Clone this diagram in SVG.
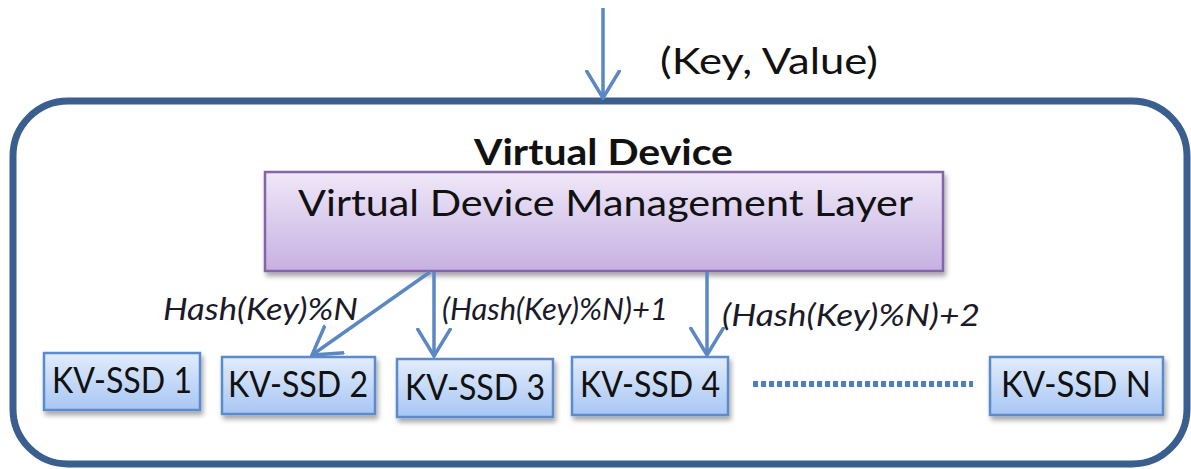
<svg xmlns="http://www.w3.org/2000/svg" width="1191" height="469" viewBox="0 0 1191 469">
<defs>
<linearGradient id="gBlue" x1="0" y1="0" x2="0" y2="1">
<stop offset="0" stop-color="#e2ecfc"/>
<stop offset="1" stop-color="#a8c6f4"/>
</linearGradient>
<linearGradient id="gPurple" x1="0" y1="0" x2="0" y2="1">
<stop offset="0" stop-color="#efe8f8"/>
<stop offset="1" stop-color="#c6b0e2"/>
</linearGradient>
<filter id="sh" x="-10%" y="-10%" width="130%" height="140%">
<feDropShadow dx="2" dy="4" stdDeviation="2.5" flood-color="#000" flood-opacity="0.35"/>
</filter>
<marker id="ahBig" viewBox="0 0 30 36" refX="28" refY="18" markerWidth="30" markerHeight="36" markerUnits="userSpaceOnUse" orient="auto">
<path d="M0,1 L28,18 L0,35" fill="none" stroke="#5b87c4" stroke-width="3.5"/>
</marker>
</defs>
<style>
.box{fill:url(#gBlue);stroke:#5b8bcb;stroke-width:2.5;filter:url(#sh)}
.lbl{font-family:Lato,"Open Sans",sans-serif;font-size:36px;fill:#111;text-anchor:middle}
.hash{font-family:Lato,"Open Sans",sans-serif;font-size:30px;font-style:italic;fill:#1a1a2a}
.conn{stroke:#5b87c4;stroke-width:3.5;fill:none}
</style>
<g id="virtual-device">
<rect x="13" y="101" width="1174" height="363" rx="55" ry="55" fill="#fff" stroke="#3a5f8f" stroke-width="7"/>
<text x="474" y="165" font-family="Lato,'Open Sans',sans-serif" font-size="37" font-weight="bold" fill="#111" textLength="259" lengthAdjust="spacingAndGlyphs">Virtual Device</text>
</g>
<g id="input-label">
<text x="660" y="74" font-family="Lato,'Open Sans',sans-serif" font-size="37" fill="#111" textLength="218" lengthAdjust="spacingAndGlyphs">(Key, Value)</text>
</g>
<g id="vdml">
<rect x="265" y="172" width="678" height="99" fill="url(#gPurple)" stroke="#8466a8" stroke-width="2.5" filter="url(#sh)"/>
<text x="298" y="216" font-family="Lato,'Open Sans',sans-serif" font-size="37" fill="#111" textLength="615" lengthAdjust="spacingAndGlyphs">Virtual Device Management Layer</text>
</g>
<g id="ssd1"><rect class="box" x="44" y="353" width="156" height="57"/><text class="lbl" x="122" y="393" textLength="140" lengthAdjust="spacingAndGlyphs">KV-SSD 1</text></g>
<g id="ssd2"><rect class="box" x="222" y="357" width="153" height="57"/><text class="lbl" x="298" y="397" textLength="140" lengthAdjust="spacingAndGlyphs">KV-SSD 2</text></g>
<g id="ssd3"><rect class="box" x="397" y="359" width="156" height="58"/><text class="lbl" x="475" y="400" textLength="140" lengthAdjust="spacingAndGlyphs">KV-SSD 3</text></g>
<g id="ssd4"><rect class="box" x="572" y="357" width="156" height="58"/><text class="lbl" x="650" y="397" textLength="140" lengthAdjust="spacingAndGlyphs">KV-SSD 4</text></g>
<g id="ssdN"><rect class="box" x="990" y="357" width="173" height="58"/><text class="lbl" x="1076" y="397" textLength="150" lengthAdjust="spacingAndGlyphs">KV-SSD N</text></g>
<g id="connectors">
<line class="conn" x1="603" y1="8" x2="603" y2="98" marker-end="url(#ahBig)"/>
<line class="conn" x1="430" y1="272" x2="312" y2="355" marker-end="url(#ahBig)"/>
<line class="conn" x1="434" y1="272" x2="434" y2="356" marker-end="url(#ahBig)"/>
<line class="conn" x1="707" y1="272" x2="707" y2="355" marker-end="url(#ahBig)"/>
<line x1="753" y1="384" x2="973" y2="384" stroke="#4f7fbf" stroke-width="6" stroke-dasharray="5,3"/>
<text class="hash" x="163" y="320" textLength="195" lengthAdjust="spacingAndGlyphs">Hash(Key)%N</text>
<text class="hash" x="442" y="320" textLength="226" lengthAdjust="spacingAndGlyphs">(Hash(Key)%N)+1</text>
<text class="hash" x="722" y="326" textLength="258" lengthAdjust="spacingAndGlyphs">(Hash(Key)%N)+2</text>
</g>
</svg>
